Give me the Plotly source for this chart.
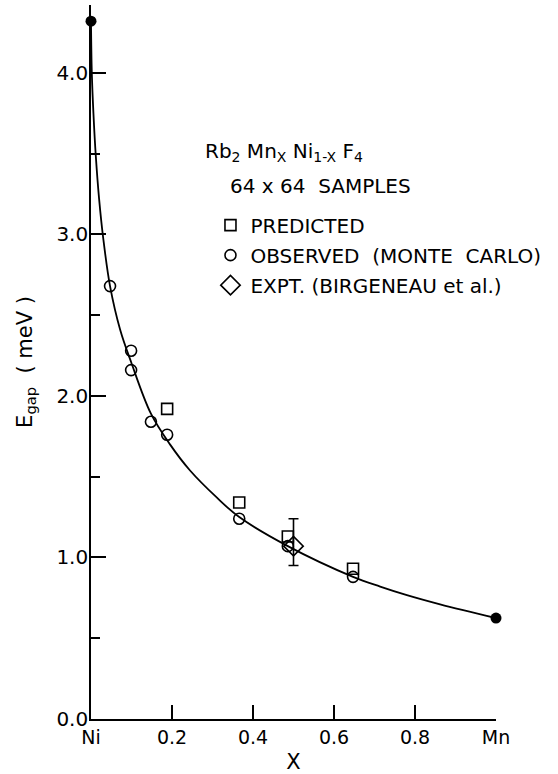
import plotly.graph_objects as go

# Energy gap of Rb2MnxNi1-xF4 versus Mn concentration x
predicted_x = [0.188, 0.366, 0.486, 0.647]
predicted_y = [1.92, 1.34, 1.13, 0.93]

observed_x = [0.047, 0.099, 0.099, 0.148, 0.188, 0.366, 0.486, 0.647]
observed_y = [2.68, 2.28, 2.16, 1.84, 1.76, 1.24, 1.07, 0.88]

expt_x = [0.5]
expt_y = [1.07]
expt_err_plus = [0.17]
expt_err_minus = [0.12]

# pure-compound end points (Ni: x=0, Mn: x=1)
end_x = [0.0, 1.0]
end_y = [4.32, 0.625]

# smooth guide curve through the data
curve_x = [0.0, 0.002, 0.006, 0.012, 0.02, 0.03, 0.047, 0.072, 0.099, 0.148,
           0.195, 0.244, 0.311, 0.366, 0.486, 0.647, 0.714, 0.78, 0.862, 1.0]
curve_y = [4.32, 4.0, 3.75, 3.48, 3.22, 2.98, 2.68, 2.41, 2.21, 1.89,
           1.70, 1.54, 1.37, 1.25, 1.07, 0.88, 0.82, 0.767, 0.71, 0.625]

x_tickvals = [0, 0.2, 0.4, 0.6, 0.8, 1.0]
x_ticktext = ["Ni", "0.2", "0.4", "0.6", "0.8", "Mn"]
y_tickvals = [0, 1, 2, 3, 4]
y_ticktext = ["0.0", "1.0", "2.0", "3.0", "4.0"]

FONT = "DejaVu Sans"
INK = "black"

fig = go.Figure()

fig.add_trace(go.Scatter(
    x=curve_x, y=curve_y, mode="lines",
    line=dict(color=INK, width=1.8, shape="spline", smoothing=1.0),
    showlegend=False, hoverinfo="skip"))

fig.add_trace(go.Scatter(
    x=end_x, y=end_y, mode="markers",
    marker=dict(symbol="circle", size=11, color=INK),
    showlegend=False, cliponaxis=False))

fig.add_trace(go.Scatter(
    x=predicted_x, y=predicted_y, mode="markers", name="PREDICTED",
    legendgroup="p",
    marker=dict(symbol="square-open", size=11, color=INK, line=dict(width=1.6)),
    cliponaxis=False))

fig.add_trace(go.Scatter(
    x=observed_x, y=observed_y, mode="markers", name="OBSERVED  (MONTE  CARLO)",
    legendgroup="o",
    marker=dict(symbol="circle-open", size=11, color=INK, line=dict(width=1.6)),
    cliponaxis=False))

fig.add_trace(go.Scatter(
    x=expt_x, y=expt_y, mode="markers", name="EXPT. (BIRGENEAU et al.)",
    legendgroup="e",
    marker=dict(symbol="diamond-open", size=15, color=INK, line=dict(width=1.6)),
    error_y=dict(type="data", array=expt_err_plus, arrayminus=expt_err_minus,
                 symmetric=False, color=INK, thickness=1.6, width=5),
    cliponaxis=False))

fig.add_annotation(
    text="Rb<sub>2</sub> Mn<sub>X</sub> Ni<sub>1-X</sub> F<sub>4</sub>",
    xref="paper", yref="paper", x=0.276, y=0.794,
    xanchor="left", yanchor="middle", showarrow=False,
    font=dict(family=FONT, size=20, color=INK))

fig.add_annotation(
    text="64 x 64  SAMPLES",
    xref="paper", yref="paper", x=0.338, y=0.7465,
    xanchor="left", yanchor="middle", showarrow=False,
    font=dict(family=FONT, size=20, color=INK))

fig.update_layout(
    width=558, height=774,
    margin=dict(l=91, r=62, t=5, b=55),
    paper_bgcolor="white", plot_bgcolor="white",
    font=dict(family=FONT, color=INK),
    showlegend=True,
    legend=dict(
        x=0.295, y=0.719, xanchor="left", yanchor="top",
        bgcolor="rgba(0,0,0,0)", borderwidth=0,
        traceorder="grouped", tracegroupgap=1,
        font=dict(family=FONT, size=20, color=INK)),
)

fig.update_xaxes(
    range=[0, 1], showgrid=False, zeroline=False, automargin=False,
    showline=True, linecolor=INK, linewidth=1.6,
    ticks="inside", ticklen=14, tickwidth=1.6, tickcolor=INK,
    tickvals=x_tickvals, ticktext=x_ticktext,
    tickfont=dict(family=FONT, size=19, color=INK),
    title=dict(text="X", font=dict(family=FONT, size=21, color=INK), standoff=13),
)

fig.update_yaxes(
    range=[0, 4.42], showgrid=False, zeroline=False, automargin=False,
    showline=True, linecolor=INK, linewidth=1.6,
    ticks="inside", ticklen=15, tickwidth=1.6, tickcolor=INK,
    tickvals=y_tickvals, ticktext=y_ticktext, ticklabelstandoff=-3,
    tickfont=dict(family=FONT, size=20, color=INK),
    minor=dict(ticks="inside", ticklen=9, tickwidth=1.6, tickcolor=INK,
               tickvals=[0.5, 1.5, 2.5, 3.5], showgrid=False),
    title=dict(text="E<sub>gap</sub>  ( meV )", font=dict(family=FONT, size=21, color=INK),
               standoff=18),
)

fig.write_html("out.html")
